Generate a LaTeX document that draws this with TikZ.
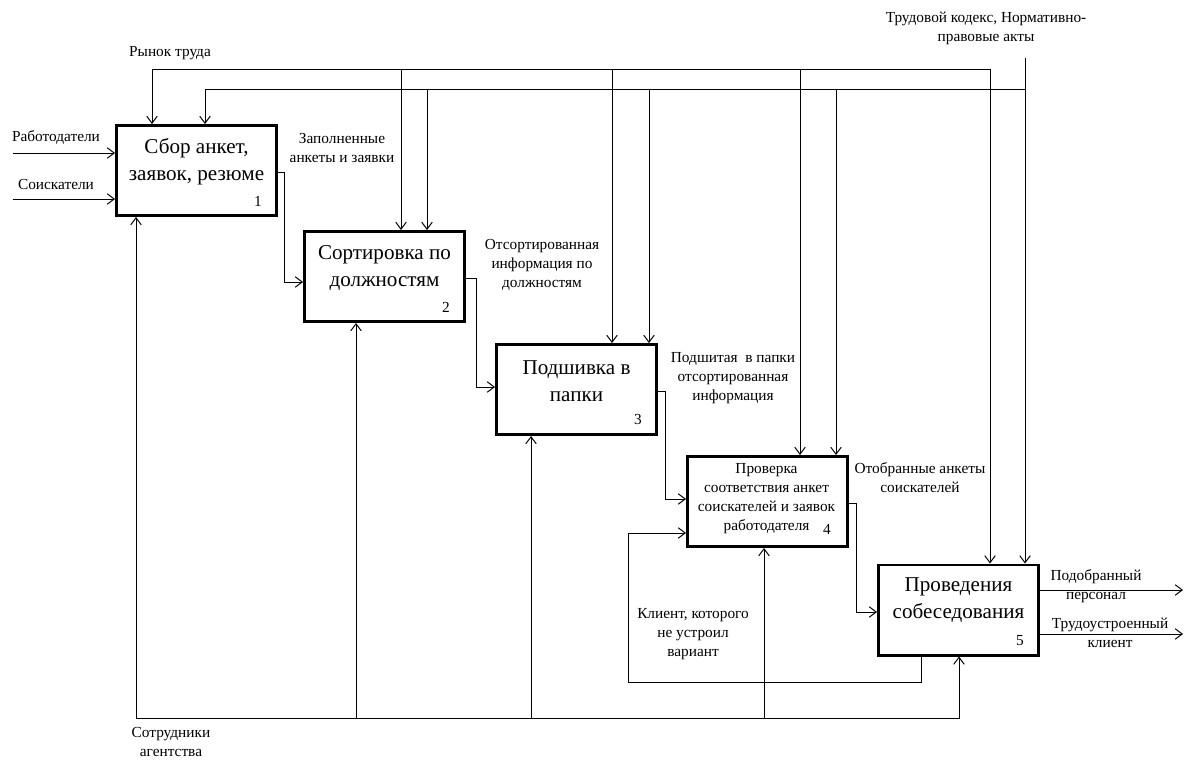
\documentclass[tikz,border=0pt]{standalone}
\usepackage{fontspec}
\setmainfont{Liberation Serif}
\usetikzlibrary{arrows.meta,positioning}

\begin{document}
\begin{tikzpicture}[x=0.025cm,y=-0.025cm,
  >={Straight Barb[length=5pt,width=7.5pt]},line width=0.7pt,
  proc/.style={draw,line width=2.1pt,minimum width=4cm,minimum height=2.25cm,inner sep=0pt},
  ptitle/.style={align=center,inner sep=0pt,font=\fontsize{15}{19.2}\selectfont},
  lbl/.style={align=center,inner sep=0pt,font=\fontsize{10.9}{13.5}\selectfont}]
\useasboundingbox (0,0) rectangle (1200,769);

%boxes
\node[proc] (b1) at (196.5,170.5) {};
\node[proc] (b2) at (384.5,276.5) {};
\node[proc] (b3) at (576.5,389.5) {};
\node[proc] (b4) at (767.5,501.5) {};
\node[proc] (b5) at (958.5,610) {};

\node[ptitle] (t1) at ([shift={(0,-9)}]b1.center) {Сбор анкет,\\заявок, резюме};
\node[ptitle] (t2) at ([shift={(0,-8.5)}]b2.center) {Сортировка по\\должностям};
\node[ptitle] (t3) at ([shift={(0,-8.5)}]b3.center) {Подшивка в\\папки};
\node[lbl] (t4) at ([shift={(-1,-3)}]b4.center)
{Проверка\\соответствия анкет\\соискателей и заявок\\работодателя};
\node[ptitle] (t5) at ([shift={(0,-9.5)}]b5.center) {Проведения\\собеседования};

% numbers
\foreach\b/\n in {b1/1,b2/2,b3/3,b5/5}
\node[lbl] (n\n) at ([shift={(-20,-16)}]\b.south east) {\n};
\node[lbl] (n4) at (827,529) {4};

%inputs
\coordinate (inA) at (13,153);
\coordinate (inB) at (13,199);
\draw[->] (inA) -- (inA -| b1.west);
\draw[->] (inB) -- (inB -| b1.west);
\node[lbl] (lRab) at (56,137) {Работодатели};
\node[lbl] (lSois) at (56,184) {Соискатели};

%controls
\coordinate (kodeks) at (1025,58);
\draw[<->] (b1.north -| 152,0) |- (990,69) -- (990,69 |- b5.north);
\draw[->] (kodeks) -- (kodeks |- b5.north);
\draw[->] (kodeks |- 0,89) -| (b1.north -| 205,0);
\foreach\x/\b in {401/b2,612/b3,800/b4}
\draw[->] (\x,69) -- (\x,69 |- \b.north);
\foreach\x/\b in {427/b2,649/b3,836/b4}
\draw[->] (\x,89) -- (\x,89 |- \b.north);
\node[lbl] (lRynok) at (170,53) {Рынок труда};
\node[lbl] (lKodeks) at (986,28) {Трудовой кодекс, Нормативно-\\правовые акты};

%box to box
\draw[->] (b1.east |- 0,172) -- ++(6,0) |- (b2.west |- 0,282);
\draw[->] (b2.east |- 0,278) -- ++(10,0) |- (b3.west |- 0,387);
\draw[->] (b3.east |- 0,391) -- ++(7,0) |- (b4.west |- 0,499);
\draw[->] (b4.east |- 0,503) -- ++(7,0) |- (b5.west |- 0,612);
\node[lbl] (lZap) at (342,148) {Заполненные\\анкеты и заявки};
\node[lbl] (lOts) at (542,265) {Отсортированная\\информация по\\должностям};
\node[lbl] (lPod) at (733,378) {Подшитая\ \ в папки\\отсортированная\\информация};
\node[lbl] (lOtob) at (920,478) {Отобранные анкеты\\соискателей};

% feedback
\coordinate (fb) at (628,682);
\draw[->] (b5.south -| 921,0) |- (fb) |- (b4.west |- 0,533);
\node[lbl] (lKlient) at (693,634) {Клиент, которого\\не устроил\\вариант};

%outputs
\coordinate (outP) at (1183,590);
\coordinate (outT) at (1183,634);
\draw[->] (outP -| b5.east) -- (outP);
\draw[->] (outT -| b5.east) -- (outT);
\node[lbl] (lPers) at (1096,586) {Подобранный\\персонал};
\node[lbl] (lTrud) at (1110,633) {Трудоустроенный\\клиент};

% bottom part
\coordinate (staff) at (136,718);
\draw[<->] (staff |- b1.south) -- (staff) -- (959,718) -- (959,718 |- b5.south);
\foreach\x/\b in {356/b2,531/b3,764/b4}
\draw[->] (\x,718) -- (\x,718 |- \b.south);
\node[lbl] (lSotr) at (171,742) {Сотрудники\\агентства};

\end{tikzpicture}
\end{document}
